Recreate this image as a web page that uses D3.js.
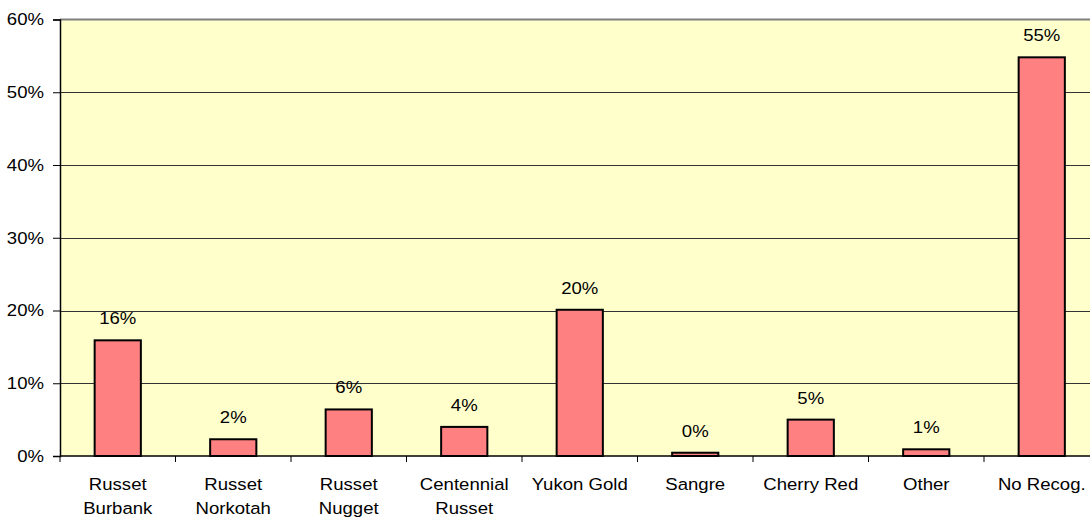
<!DOCTYPE html>
<html><head><meta charset="utf-8">
<script src="https://cdn.jsdelivr.net/npm/d3@7"></script>
<style>body{margin:0;background:#fff}svg{display:block}text{font-family:"Liberation Sans",Arial,sans-serif;fill:#000}</style>
</head><body><svg id="c" width="1090" height="519"></svg>
<script>
const categories = [["Russet","Burbank"],["Russet","Norkotah"],["Russet","Nugget"],["Centennial","Russet"],["Yukon Gold"],["Sangre"],["Cherry Red"],["Other"],["No Recog."]];
const values = [0.159, 0.023, 0.064, 0.040, 0.201, 0.0045, 0.050, 0.0092, 0.548];
const valueLabels = ["16%","2%","6%","4%","20%","0%","5%","1%","55%"];
const yTicks = [0,0.1,0.2,0.3,0.4,0.5,0.6];

const FS = 16.3, SX = 1.14;
const svg = d3.select("#c");
const L = 60, R = 1099.5, T = 19.5, B = 456;
const x = d3.scaleBand().domain(d3.range(categories.length)).range([L, R]).paddingInner(0).paddingOuter(0);
const y = d3.scaleLinear().domain([0, 0.6]).range([B, T]);
const bw = x.bandwidth() / 2.5;
const fmt = d3.format(".0%");

svg.append("rect").attr("x", L).attr("y", T).attr("width", R - L).attr("height", B - T).attr("fill", "#FFFFCC");

// gridlines
svg.append("g").selectAll("line").data(yTicks.filter(d => d > 0 && d < 0.6)).join("line")
  .attr("x1", L).attr("x2", R).attr("y1", d => Math.round(y(d)) + 0.5).attr("y2", d => Math.round(y(d)) + 0.5)
  .attr("stroke", "#333").attr("stroke-width", 1);
// top border
svg.append("line").attr("x1", L).attr("x2", R).attr("y1", T).attr("y2", T).attr("stroke", "#808080").attr("stroke-width", 2);

// bars
svg.append("g").selectAll("rect").data(values).join("rect")
  .attr("x", (d, i) => x(i) + (x.bandwidth() - bw) / 2)
  .attr("width", bw)
  .attr("y", d => y(d))
  .attr("height", d => B - y(d))
  .attr("fill", "#FF8080").attr("stroke", "#000").attr("stroke-width", 2);

// value labels
svg.append("g").selectAll("text").data(values).join("text")
  .attr("transform", (d, i) => `translate(${x(i) + x.bandwidth() / 2},${y(d) - 16}) scale(${SX},1)`)
  .attr("text-anchor", "middle").attr("font-size", FS)
  .text((d, i) => valueLabels[i]);

// y axis
const yAxis = d3.axisLeft(y).tickValues(yTicks).tickFormat("").tickSize(7);
const ga = svg.append("g").attr("transform", `translate(${L},0)`).call(yAxis);
ga.select(".domain").attr("stroke", "#000").attr("stroke-width", 1.5);
ga.selectAll(".tick line").attr("stroke", "#000");
ga.selectAll(".tick text").remove();
svg.append("g").selectAll("text").data(yTicks).join("text")
  .attr("transform", d => `translate(44,${y(d) + FS * 0.36}) scale(${SX},1)`)
  .attr("text-anchor", "end").attr("font-size", FS).text(d => fmt(d));

// x axis
svg.append("line").attr("x1", L).attr("x2", R).attr("y1", B).attr("y2", B).attr("stroke", "#000").attr("stroke-width", 1.5);
svg.append("g").selectAll("line").data(d3.range(categories.length + 1)).join("line")
  .attr("x1", i => L + i * x.bandwidth()).attr("x2", i => L + i * x.bandwidth())
  .attr("y1", B).attr("y2", B + 6).attr("stroke", "#000");
const cl = svg.append("g").selectAll("text").data(categories).join("text")
  .attr("text-anchor", "middle").attr("font-size", FS)
  .attr("transform", (d, i) => `translate(${x(i) + x.bandwidth() / 2},490) scale(${SX},1)`);
cl.selectAll("tspan").data(d => d).join("tspan")
  .attr("x", 0).attr("dy", (d, j) => j === 0 ? 0 : 24).text(d => d);
</script></body></html>
